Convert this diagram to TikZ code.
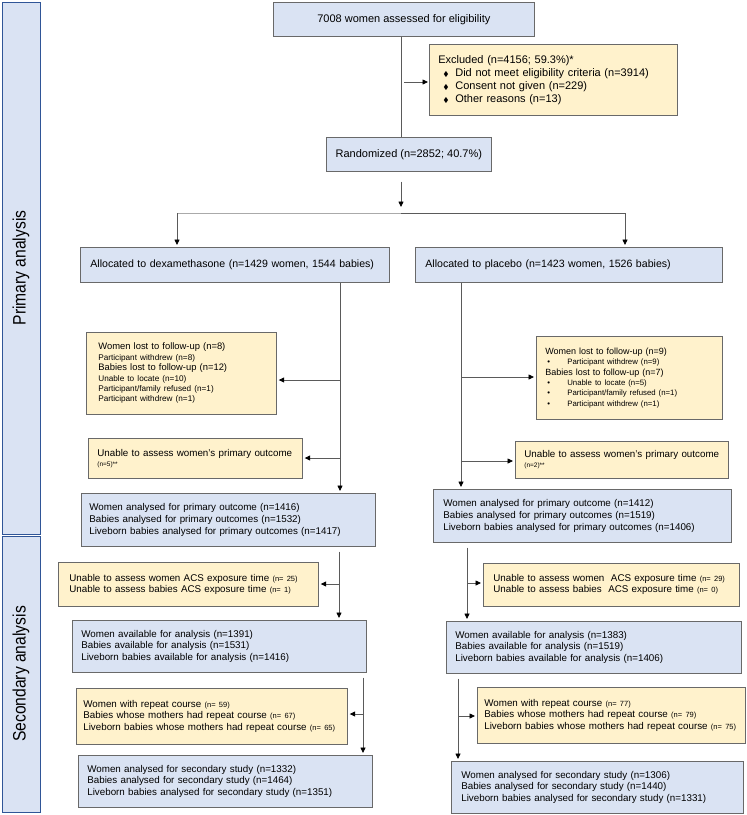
\documentclass[tikz,border=0pt]{standalone}
\usepackage{amssymb}
\usepackage{fontspec}
\setmainfont{Liberation Sans}
\newfontfamily\narrowsf[FakeStretch=0.87]{Liberation Sans}
\usetikzlibrary{arrows.meta,positioning}
\definecolor{boxblue}{RGB}{218,227,243}
\definecolor{boxyellow}{RGB}{255,242,204}
\definecolor{boxedge}{RGB}{105,105,105}
\definecolor{phaseedge}{RGB}{47,85,151}
\definecolor{linegray}{RGB}{90,90,90}
\definecolor{paleline}{RGB}{170,170,170}
\newcommand{\exdia}{\makebox[17pt][l]{\hspace{5pt}{\scriptsize$\blacklozenge$}}}
\newcommand{\lostbul}{\makebox[22pt][l]{\hspace{2pt}\textbullet}}
\newcommand{\subsz}{\fontsize{8.2}{10.4}\selectfont}
\newcommand{\nsz}{\fontsize{7.5}{11}\selectfont}

\begin{document}
\begin{tikzpicture}[x=1pt, y=-1pt,
  every node/.style={font=\fontsize{9.8}{11.7}\selectfont},
  bluebox/.style={draw=boxedge, fill=boxblue, line width=0.7pt, anchor=north west, inner ysep=0pt, align=left},
  yellowbox/.style={bluebox, fill=boxyellow},
  phase/.style={draw=phaseedge, fill=boxblue, line width=1pt},
  conn/.style={draw=linegray, line width=0.8pt},
  arr/.style={conn, -{Triangle[length=5.5pt,width=5pt,color=black]}, shorten >=2pt}]

\useasboundingbox (0,0) rectangle (747,815);

% phase bars
\draw[phase] (2,2) rectangle (40,534);
\draw[phase] (2,536) rectangle (40,812);
\node[rotate=90, font=\narrowsf\fontsize{18}{20}\selectfont] (primlab) at (21,268) {Primary analysis};
\node[rotate=90, font=\narrowsf\fontsize{18}{20}\selectfont] (seclab) at (21,674) {Secondary analysis};

% enrolment
\node[bluebox, minimum width=261pt, minimum height=34pt, align=center,
  font=\fontsize{11}{13}\selectfont] (assess) at (273,2) {7008 women assessed for eligibility};
\node[yellowbox, minimum width=248pt, minimum height=71pt, inner xsep=9pt, text width=230pt,
  font=\fontsize{11}{13}\selectfont] (excl) at (429,44)
  {Excluded (n=4156; 59.3\%)*\\
   \exdia Did not meet eligibility criteria (n=3914)\\
   \exdia Consent not given (n=229)\\
   \exdia Other reasons (n=13)};
\node[bluebox, minimum width=165pt, minimum height=34pt, align=center,
  font=\fontsize{11}{13}\selectfont] (rand) at (326,137) {Randomized (n=2852; 40.7\%)};

% allocation
\node[bluebox, minimum width=309pt, minimum height=35pt, inner xsep=10pt, text width=289pt,
  font=\fontsize{10.6}{12}\selectfont] (alloc1) at (80,247)
  {Allocated to dexamethasone (n=1429 women, 1544 babies)};
\node[bluebox, minimum width=307pt, minimum height=35pt, inner xsep=10pt, text width=287pt,
  font=\fontsize{10.6}{12}\selectfont] (alloc2) at (415,247)
  {Allocated to placebo (n=1423 women, 1526 babies)};

% follow-up, dexamethasone arm
\node[yellowbox, minimum width=190pt, minimum height=82pt, inner xsep=12pt, text width=166pt,
  font=\fontsize{9.4}{10.4}\selectfont] (lost1) at (86,332)
  {Women lost to follow-up (n=8)\\
   {\subsz Participant withdrew (n=8)}\\
   Babies lost to follow-up (n=12)\\
   {\subsz Unable to locate (n=10)}\\
   {\subsz Participant/family refused (n=1)}\\
   {\subsz Participant withdrew (n=1)}};
\node[yellowbox, minimum width=214pt, minimum height=40pt, inner xsep=9pt, text width=196pt,
  font=\fontsize{9.8}{10}\selectfont] (unab1) at (88,438)
  {Unable to assess women’s primary outcome\\ {\fontsize{6.5}{8}\selectfont (n=5)**}};
\node[bluebox, minimum width=294pt, minimum height=53pt, inner xsep=8pt, text width=278pt] (prim1) at (81,493)
  {Women analysed for primary outcome (n=1416)\\
   Babies analysed for primary outcomes (n=1532)\\
   Liveborn babies analysed for primary outcomes (n=1417)};

% follow-up, placebo arm
\node[yellowbox, minimum width=186pt, minimum height=83pt, inner xsep=9pt, text width=168pt,
  font=\fontsize{9}{10.4}\selectfont] (lost2) at (536,336)
  {Women lost to follow-up (n=9)\\
   {\fontsize{7.8}{10.4}\selectfont\lostbul Participant withdrew (n=9)}\\
   Babies lost to follow-up (n=7)\\
   {\fontsize{7.8}{10.4}\selectfont\lostbul Unable to locate (n=5)}\\
   {\fontsize{7.8}{10.4}\selectfont\lostbul Participant/family refused (n=1)}\\
   {\fontsize{7.8}{10.4}\selectfont\lostbul Participant withdrew (n=1)}};
\node[yellowbox, minimum width=213pt, minimum height=37pt, inner xsep=9pt, text width=195pt,
  font=\fontsize{9.8}{10}\selectfont] (unab2) at (515,441)
  {Unable to assess women’s primary outcome\\ {\fontsize{6.5}{8}\selectfont (n=2)**}};
\node[bluebox, minimum width=298pt, minimum height=53pt, inner xsep=10pt, text width=278pt] (prim2) at (433,489)
  {Women analysed for primary outcome (n=1412)\\
   Babies analysed for primary outcomes (n=1519)\\
   Liveborn babies analysed for primary outcomes (n=1406)};

% secondary analysis, dexamethasone arm
\node[yellowbox, minimum width=260pt, minimum height=44pt, inner xsep=11pt, text width=238pt,
  font=\fontsize{9.8}{11}\selectfont] (acs1) at (58,562)
  {Unable to assess women ACS exposure time {\nsz(n= 25)}\\
   Unable to assess babies ACS exposure time {\nsz(n= 1)}};
\node[bluebox, minimum width=294pt, minimum height=52pt, inner xsep=9pt, text width=276pt] (avail1) at (72,620)
  {Women available for analysis (n=1391)\\
   Babies available for analysis (n=1531)\\
   Liveborn babies available for analysis (n=1416)};
\node[yellowbox, minimum width=271pt, minimum height=56pt, inner xsep=7pt, text width=257pt,
  font=\fontsize{9.8}{11.5}\selectfont] (rep1) at (76,688)
  {Women with repeat course {\nsz(n= 59)}\\
   Babies whose mothers had repeat course {\nsz(n= 67)}\\
   Liveborn babies whose mothers had repeat course {\nsz(n= 65)}};
\node[bluebox, minimum width=294pt, minimum height=52pt, inner xsep=9pt, text width=276pt] (sec1) at (78,755)
  {Women analysed for secondary study (n=1332)\\
   Babies analysed for secondary study (n=1464)\\
   Liveborn babies analysed for secondary study (n=1351)};

% secondary analysis, placebo arm
\node[yellowbox, minimum width=256pt, minimum height=43pt, inner xsep=10pt, text width=236pt,
  font=\fontsize{9.8}{11}\selectfont] (acs2) at (483,563)
  {Unable to assess women\ \ ACS exposure time {\nsz(n= 29)}\\
   Unable to assess babies\ \ ACS exposure time {\nsz(n= 0)}};
\node[bluebox, minimum width=295pt, minimum height=52pt, inner xsep=9pt, text width=277pt] (avail2) at (446,621)
  {Women available for analysis (n=1383)\\
   Babies available for analysis (n=1519)\\
   Liveborn babies available for analysis (n=1406)};
\node[yellowbox, minimum width=268pt, minimum height=56pt, inner xsep=7pt, text width=254pt,
  font=\fontsize{9.8}{11.5}\selectfont] (rep2) at (477,687)
  {Women with repeat course {\nsz(n= 77)}\\
   Babies whose mothers had repeat course {\nsz(n= 79)}\\
   Liveborn babies whose mothers had repeat course {\nsz(n= 75)}};
\node[bluebox, minimum width=292pt, minimum height=52pt, inner xsep=10pt, text width=272pt] (sec2) at (451,761)
  {Women analysed for secondary study (n=1306)\\
   Babies analysed for secondary study (n=1440)\\
   Liveborn babies analysed for secondary study (n=1331)};

% connectors, top
\coordinate (xm) at (401,0);
\coordinate (exc) at (404,82);
\coordinate (split) at (401,213);
\coordinate (xa) at (177,0);
\coordinate (xb) at (625,0);
\draw[conn] (assess.south -| xm) -- (rand.north -| xm);
\draw[arr, shorten >=1pt] (exc) -- (exc -| excl.west);
\draw[arr, shorten <=10pt, shorten >=6pt] (rand.south -| xm) -- (split);
\draw[conn, draw=paleline] (split) -- (split -| xa);
\draw[conn] (split) -- (split -| xb);
\draw[arr] (split -| xa) -- (alloc1.north -| xa);
\draw[arr] (split -| xb) -- (alloc2.north -| xb);

% connectors, primary analysis
\coordinate (xl) at (340,0);
\coordinate (bl1) at (340,380);
\coordinate (bl2) at (340,458);
\draw[arr] (alloc1.south -| xl) -- (prim1.north -| xl);
\draw[arr] (bl1) -- (bl1 -| lost1.east);
\draw[arr] (bl2) -- (bl2 -| unab1.east);
\coordinate (xr) at (461,0);
\coordinate (br1) at (461,377);
\coordinate (br2) at (461,461);
\draw[arr] (alloc2.south -| xr) -- (prim2.north -| xr);
\draw[arr] (br1) -- (br1 -| lost2.west);
\draw[arr] (br2) -- (br2 -| unab2.west);

% connectors, secondary analysis
\coordinate (xl2) at (339,0);
\coordinate (bl3) at (339,584);
\coordinate (xl3) at (363,0);
\coordinate (bl4) at (363,714);
\draw[arr, shorten <=5pt] (prim1.south -| xl2) -- (avail1.north -| xl2);
\draw[arr] (bl3) -- (bl3 -| acs1.east);
\draw[arr, shorten <=5pt] (avail1.south -| xl3) -- (sec1.north -| xl3);
\draw[arr] (bl4) -- (bl4 -| rep1.east);
\coordinate (xr2) at (467,0);
\coordinate (br3) at (467,583);
\coordinate (xr3) at (458,0);
\coordinate (br4) at (458,716);
\draw[arr, shorten <=5pt] (prim2.south -| xr2) -- (avail2.north -| xr2);
\draw[arr] (br3) -- (br3 -| acs2.west);
\draw[arr, shorten <=5pt] (avail2.south -| xr3) -- (sec2.north -| xr3);
\draw[arr] (br4) -- (br4 -| rep2.west);
\end{tikzpicture}
\end{document}
